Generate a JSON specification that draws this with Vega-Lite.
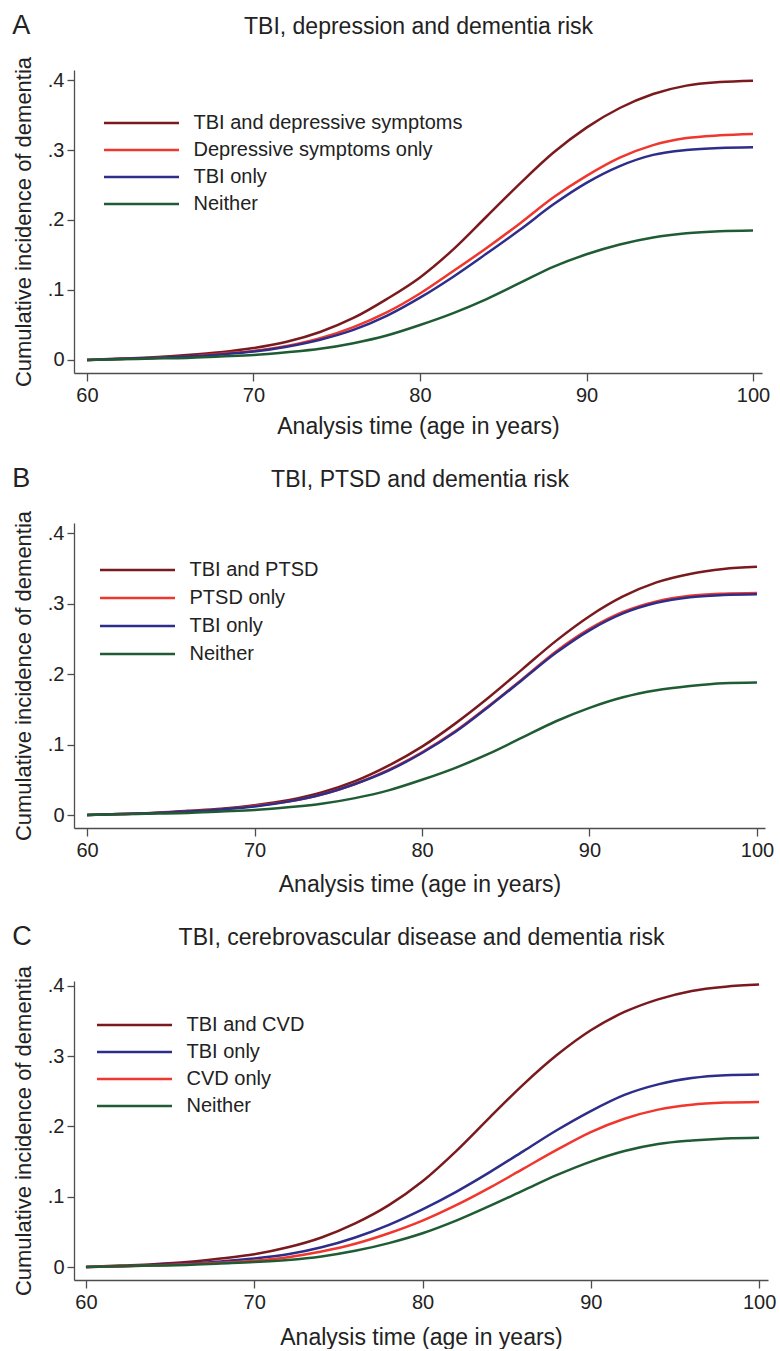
{
  "$schema": "https://vega.github.io/schema/vega-lite/v6.json",
  "background": "white",
  "padding": {"left": 12, "top": 12, "right": 5, "bottom": 0},
  "spacing": 27,
  "config": {
    "font": "Liberation Sans",
    "view": {"stroke": null},
    "axis": {"domainColor": "#4d4d4d", "tickColor": "#4d4d4d", "domainWidth": 1.3, "tickWidth": 1.3, "tickSize": 7, "labelFont": "Liberation Sans", "labelFontSize": 20, "labelColor": "#222222", "titleFont": "Liberation Sans", "titleFontSize": 22, "titleFontWeight": "normal", "titleColor": "#222222", "grid": false, "labelPadding": 4, "labelFlush": false},
    "axisX": {"tickSize": 8, "titlePadding": 10, "titleFontSize": 23},
    "axisY": {"titlePadding": 12, "labelPadding": 3},
    "legend": {"orient": "none", "title": null, "padding": 0, "labelFont": "Liberation Sans", "labelFontSize": 20, "labelColor": "#222222", "labelLimit": 600, "symbolType": "M-7.5,0H7.5", "symbolSize": 100, "symbolStrokeWidth": 2.5, "symbolOffset": 27.5, "labelOffset": 42, "rowPadding": 7},
    "title": {"font": "Liberation Sans", "color": "#222222"}
  },
  "resolve": {"scale": {"x": "independent", "y": "independent", "color": "independent"}},
  "datasets": {
    "A": [
      {"g":"TBI and depressive symptoms","a":60,"v":0},{"g":"TBI and depressive symptoms","a":62,"v":0.002},{"g":"TBI and depressive symptoms","a":64,"v":0.004},{"g":"TBI and depressive symptoms","a":66,"v":0.007},{"g":"TBI and depressive symptoms","a":68,"v":0.011},{"g":"TBI and depressive symptoms","a":70,"v":0.017},{"g":"TBI and depressive symptoms","a":72,"v":0.026},{"g":"TBI and depressive symptoms","a":74,"v":0.040},{"g":"TBI and depressive symptoms","a":76,"v":0.060},{"g":"TBI and depressive symptoms","a":78,"v":0.087},{"g":"TBI and depressive symptoms","a":80,"v":0.118},{"g":"TBI and depressive symptoms","a":82,"v":0.158},{"g":"TBI and depressive symptoms","a":84,"v":0.205},{"g":"TBI and depressive symptoms","a":86,"v":0.252},{"g":"TBI and depressive symptoms","a":88,"v":0.296},{"g":"TBI and depressive symptoms","a":90,"v":0.332},{"g":"TBI and depressive symptoms","a":92,"v":0.360},{"g":"TBI and depressive symptoms","a":94,"v":0.380},{"g":"TBI and depressive symptoms","a":96,"v":0.392},{"g":"TBI and depressive symptoms","a":98,"v":0.397},{"g":"TBI and depressive symptoms","a":100,"v":0.399},
      {"g":"Depressive symptoms only","a":60,"v":0},{"g":"Depressive symptoms only","a":62,"v":0.0015},{"g":"Depressive symptoms only","a":64,"v":0.003},{"g":"Depressive symptoms only","a":66,"v":0.005},{"g":"Depressive symptoms only","a":68,"v":0.009},{"g":"Depressive symptoms only","a":70,"v":0.013},{"g":"Depressive symptoms only","a":72,"v":0.020},{"g":"Depressive symptoms only","a":74,"v":0.031},{"g":"Depressive symptoms only","a":76,"v":0.047},{"g":"Depressive symptoms only","a":78,"v":0.068},{"g":"Depressive symptoms only","a":80,"v":0.095},{"g":"Depressive symptoms only","a":82,"v":0.127},{"g":"Depressive symptoms only","a":84,"v":0.160},{"g":"Depressive symptoms only","a":86,"v":0.195},{"g":"Depressive symptoms only","a":88,"v":0.232},{"g":"Depressive symptoms only","a":90,"v":0.263},{"g":"Depressive symptoms only","a":92,"v":0.289},{"g":"Depressive symptoms only","a":94,"v":0.307},{"g":"Depressive symptoms only","a":96,"v":0.317},{"g":"Depressive symptoms only","a":98,"v":0.321},{"g":"Depressive symptoms only","a":100,"v":0.323},
      {"g":"TBI only","a":60,"v":0},{"g":"TBI only","a":62,"v":0.0015},{"g":"TBI only","a":64,"v":0.003},{"g":"TBI only","a":66,"v":0.005},{"g":"TBI only","a":68,"v":0.008},{"g":"TBI only","a":70,"v":0.012},{"g":"TBI only","a":72,"v":0.019},{"g":"TBI only","a":74,"v":0.029},{"g":"TBI only","a":76,"v":0.043},{"g":"TBI only","a":78,"v":0.063},{"g":"TBI only","a":80,"v":0.089},{"g":"TBI only","a":82,"v":0.119},{"g":"TBI only","a":84,"v":0.152},{"g":"TBI only","a":86,"v":0.186},{"g":"TBI only","a":88,"v":0.222},{"g":"TBI only","a":90,"v":0.253},{"g":"TBI only","a":92,"v":0.277},{"g":"TBI only","a":94,"v":0.293},{"g":"TBI only","a":96,"v":0.300},{"g":"TBI only","a":98,"v":0.303},{"g":"TBI only","a":100,"v":0.304},
      {"g":"Neither","a":60,"v":0},{"g":"Neither","a":62,"v":0.001},{"g":"Neither","a":64,"v":0.002},{"g":"Neither","a":66,"v":0.003},{"g":"Neither","a":68,"v":0.005},{"g":"Neither","a":70,"v":0.007},{"g":"Neither","a":72,"v":0.011},{"g":"Neither","a":74,"v":0.016},{"g":"Neither","a":76,"v":0.024},{"g":"Neither","a":78,"v":0.035},{"g":"Neither","a":80,"v":0.050},{"g":"Neither","a":82,"v":0.067},{"g":"Neither","a":84,"v":0.087},{"g":"Neither","a":86,"v":0.110},{"g":"Neither","a":88,"v":0.133},{"g":"Neither","a":90,"v":0.151},{"g":"Neither","a":92,"v":0.165},{"g":"Neither","a":94,"v":0.175},{"g":"Neither","a":96,"v":0.181},{"g":"Neither","a":98,"v":0.184},{"g":"Neither","a":100,"v":0.185}
    ],
    "B": [
      {"g":"TBI and PTSD","a":60,"v":0},{"g":"TBI and PTSD","a":62,"v":0.0015},{"g":"TBI and PTSD","a":64,"v":0.003},{"g":"TBI and PTSD","a":66,"v":0.006},{"g":"TBI and PTSD","a":68,"v":0.009},{"g":"TBI and PTSD","a":70,"v":0.014},{"g":"TBI and PTSD","a":72,"v":0.021},{"g":"TBI and PTSD","a":74,"v":0.032},{"g":"TBI and PTSD","a":76,"v":0.048},{"g":"TBI and PTSD","a":78,"v":0.070},{"g":"TBI and PTSD","a":80,"v":0.097},{"g":"TBI and PTSD","a":82,"v":0.130},{"g":"TBI and PTSD","a":84,"v":0.167},{"g":"TBI and PTSD","a":86,"v":0.207},{"g":"TBI and PTSD","a":88,"v":0.247},{"g":"TBI and PTSD","a":90,"v":0.282},{"g":"TBI and PTSD","a":92,"v":0.310},{"g":"TBI and PTSD","a":94,"v":0.330},{"g":"TBI and PTSD","a":96,"v":0.342},{"g":"TBI and PTSD","a":98,"v":0.349},{"g":"TBI and PTSD","a":100,"v":0.352},
      {"g":"PTSD only","a":60,"v":0},{"g":"PTSD only","a":62,"v":0.0015},{"g":"PTSD only","a":64,"v":0.003},{"g":"PTSD only","a":66,"v":0.005},{"g":"PTSD only","a":68,"v":0.008},{"g":"PTSD only","a":70,"v":0.013},{"g":"PTSD only","a":72,"v":0.019},{"g":"PTSD only","a":74,"v":0.029},{"g":"PTSD only","a":76,"v":0.044},{"g":"PTSD only","a":78,"v":0.064},{"g":"PTSD only","a":80,"v":0.089},{"g":"PTSD only","a":82,"v":0.119},{"g":"PTSD only","a":84,"v":0.155},{"g":"PTSD only","a":86,"v":0.193},{"g":"PTSD only","a":88,"v":0.232},{"g":"PTSD only","a":90,"v":0.264},{"g":"PTSD only","a":92,"v":0.288},{"g":"PTSD only","a":94,"v":0.303},{"g":"PTSD only","a":96,"v":0.311},{"g":"PTSD only","a":98,"v":0.314},{"g":"PTSD only","a":100,"v":0.315},
      {"g":"TBI only","a":60,"v":0},{"g":"TBI only","a":62,"v":0.0015},{"g":"TBI only","a":64,"v":0.003},{"g":"TBI only","a":66,"v":0.005},{"g":"TBI only","a":68,"v":0.008},{"g":"TBI only","a":70,"v":0.012},{"g":"TBI only","a":72,"v":0.019},{"g":"TBI only","a":74,"v":0.029},{"g":"TBI only","a":76,"v":0.044},{"g":"TBI only","a":78,"v":0.063},{"g":"TBI only","a":80,"v":0.088},{"g":"TBI only","a":82,"v":0.118},{"g":"TBI only","a":84,"v":0.154},{"g":"TBI only","a":86,"v":0.192},{"g":"TBI only","a":88,"v":0.230},{"g":"TBI only","a":90,"v":0.262},{"g":"TBI only","a":92,"v":0.286},{"g":"TBI only","a":94,"v":0.301},{"g":"TBI only","a":96,"v":0.309},{"g":"TBI only","a":98,"v":0.312},{"g":"TBI only","a":100,"v":0.313},
      {"g":"Neither","a":60,"v":0},{"g":"Neither","a":62,"v":0.001},{"g":"Neither","a":64,"v":0.002},{"g":"Neither","a":66,"v":0.003},{"g":"Neither","a":68,"v":0.005},{"g":"Neither","a":70,"v":0.007},{"g":"Neither","a":72,"v":0.011},{"g":"Neither","a":74,"v":0.016},{"g":"Neither","a":76,"v":0.024},{"g":"Neither","a":78,"v":0.035},{"g":"Neither","a":80,"v":0.050},{"g":"Neither","a":82,"v":0.067},{"g":"Neither","a":84,"v":0.087},{"g":"Neither","a":86,"v":0.110},{"g":"Neither","a":88,"v":0.133},{"g":"Neither","a":90,"v":0.152},{"g":"Neither","a":92,"v":0.167},{"g":"Neither","a":94,"v":0.177},{"g":"Neither","a":96,"v":0.183},{"g":"Neither","a":98,"v":0.187},{"g":"Neither","a":100,"v":0.188}
    ],
    "C": [
      {"g":"TBI and CVD","a":60,"v":0},{"g":"TBI and CVD","a":62,"v":0.002},{"g":"TBI and CVD","a":64,"v":0.004},{"g":"TBI and CVD","a":66,"v":0.007},{"g":"TBI and CVD","a":68,"v":0.012},{"g":"TBI and CVD","a":70,"v":0.018},{"g":"TBI and CVD","a":72,"v":0.028},{"g":"TBI and CVD","a":74,"v":0.042},{"g":"TBI and CVD","a":76,"v":0.062},{"g":"TBI and CVD","a":78,"v":0.088},{"g":"TBI and CVD","a":80,"v":0.122},{"g":"TBI and CVD","a":82,"v":0.165},{"g":"TBI and CVD","a":84,"v":0.213},{"g":"TBI and CVD","a":86,"v":0.260},{"g":"TBI and CVD","a":88,"v":0.302},{"g":"TBI and CVD","a":90,"v":0.337},{"g":"TBI and CVD","a":92,"v":0.363},{"g":"TBI and CVD","a":94,"v":0.381},{"g":"TBI and CVD","a":96,"v":0.393},{"g":"TBI and CVD","a":98,"v":0.399},{"g":"TBI and CVD","a":100,"v":0.402},
      {"g":"TBI only","a":60,"v":0},{"g":"TBI only","a":62,"v":0.001},{"g":"TBI only","a":64,"v":0.003},{"g":"TBI only","a":66,"v":0.005},{"g":"TBI only","a":68,"v":0.008},{"g":"TBI only","a":70,"v":0.012},{"g":"TBI only","a":72,"v":0.018},{"g":"TBI only","a":74,"v":0.028},{"g":"TBI only","a":76,"v":0.042},{"g":"TBI only","a":78,"v":0.060},{"g":"TBI only","a":80,"v":0.082},{"g":"TBI only","a":82,"v":0.107},{"g":"TBI only","a":84,"v":0.135},{"g":"TBI only","a":86,"v":0.165},{"g":"TBI only","a":88,"v":0.195},{"g":"TBI only","a":90,"v":0.222},{"g":"TBI only","a":92,"v":0.245},{"g":"TBI only","a":94,"v":0.260},{"g":"TBI only","a":96,"v":0.269},{"g":"TBI only","a":98,"v":0.273},{"g":"TBI only","a":100,"v":0.274},
      {"g":"CVD only","a":60,"v":0},{"g":"CVD only","a":62,"v":0.001},{"g":"CVD only","a":64,"v":0.002},{"g":"CVD only","a":66,"v":0.004},{"g":"CVD only","a":68,"v":0.006},{"g":"CVD only","a":70,"v":0.009},{"g":"CVD only","a":72,"v":0.014},{"g":"CVD only","a":74,"v":0.022},{"g":"CVD only","a":76,"v":0.033},{"g":"CVD only","a":78,"v":0.048},{"g":"CVD only","a":80,"v":0.066},{"g":"CVD only","a":82,"v":0.088},{"g":"CVD only","a":84,"v":0.113},{"g":"CVD only","a":86,"v":0.140},{"g":"CVD only","a":88,"v":0.167},{"g":"CVD only","a":90,"v":0.192},{"g":"CVD only","a":92,"v":0.211},{"g":"CVD only","a":94,"v":0.224},{"g":"CVD only","a":96,"v":0.231},{"g":"CVD only","a":98,"v":0.234},{"g":"CVD only","a":100,"v":0.235},
      {"g":"Neither","a":60,"v":0},{"g":"Neither","a":62,"v":0.001},{"g":"Neither","a":64,"v":0.002},{"g":"Neither","a":66,"v":0.003},{"g":"Neither","a":68,"v":0.005},{"g":"Neither","a":70,"v":0.007},{"g":"Neither","a":72,"v":0.010},{"g":"Neither","a":74,"v":0.015},{"g":"Neither","a":76,"v":0.023},{"g":"Neither","a":78,"v":0.034},{"g":"Neither","a":80,"v":0.048},{"g":"Neither","a":82,"v":0.066},{"g":"Neither","a":84,"v":0.087},{"g":"Neither","a":86,"v":0.109},{"g":"Neither","a":88,"v":0.131},{"g":"Neither","a":90,"v":0.150},{"g":"Neither","a":92,"v":0.165},{"g":"Neither","a":94,"v":0.175},{"g":"Neither","a":96,"v":0.180},{"g":"Neither","a":98,"v":0.183},{"g":"Neither","a":100,"v":0.184}
    ]
  },
  "vconcat": [
    {
      "title": {"text": "A", "anchor": "start", "frame": "bounds", "fontSize": 27, "fontWeight": "normal", "offset": 0, "dy": 25},
      "width": 688, "height": 303,
      "data": {"name": "A"},
      "resolve": {"axis": {"x": "independent"}},
      "layer": [
        {
          "mark": {"type": "line", "strokeWidth": 2.5, "interpolate": "monotone"},
          "encoding": {
            "x": {"field": "a", "type": "quantitative", "scale": {"domain": [59.22, 100.54], "nice": false, "zero": false}, "axis": {"title": "Analysis time (age in years)", "values": [60, 70, 80, 90, 100]}},
            "y": {"field": "v", "type": "quantitative", "scale": {"domain": [-0.0186, 0.4143], "nice": false, "zero": false}, "axis": {"title": "Cumulative incidence of dementia", "values": [0, 0.1, 0.2, 0.3, 0.4], "labelExpr": "datum.value == 0 ? '0' : '.' + round(datum.value * 10)"}},
            "color": {"field": "g", "type": "nominal", "scale": {"domain": ["TBI and depressive symptoms", "Depressive symptoms only", "TBI only", "Neither"], "range": ["#7a1a1e", "#f0372d", "#2d2d8a", "#1f5c34"]}, "legend": {"legendX": 30, "legendY": 43}}
          }
        },
        {
          "data": {"values": [{"t": 1}]},
          "mark": {"type": "rule", "opacity": 0},
          "encoding": {"x": {"datum": 80, "type": "quantitative", "axis": {"orient": "top", "title": "TBI, depression and dementia risk", "domain": false, "ticks": false, "labels": false, "titlePadding": 32, "titleFontSize": 23}}}
        }
      ]
    },
    {
      "title": {"text": "B", "anchor": "start", "frame": "bounds", "fontSize": 27, "fontWeight": "normal", "offset": 0, "dy": 25},
      "width": 691, "height": 305,
      "data": {"name": "B"},
      "resolve": {"axis": {"x": "independent"}},
      "layer": [
        {
          "mark": {"type": "line", "strokeWidth": 2.5, "interpolate": "monotone"},
          "encoding": {
            "x": {"field": "a", "type": "quantitative", "scale": {"domain": [59.22, 100.48], "nice": false, "zero": false}, "axis": {"title": "Analysis time (age in years)", "values": [60, 70, 80, 90, 100], "titlePadding": 13}},
            "y": {"field": "v", "type": "quantitative", "scale": {"domain": [-0.0184, 0.4142], "nice": false, "zero": false}, "axis": {"title": "Cumulative incidence of dementia", "values": [0, 0.1, 0.2, 0.3, 0.4], "labelExpr": "datum.value == 0 ? '0' : '.' + round(datum.value * 10)"}},
            "color": {"field": "g", "type": "nominal", "scale": {"domain": ["TBI and PTSD", "PTSD only", "TBI only", "Neither"], "range": ["#7a1a1e", "#f0372d", "#2d2d8a", "#1f5c34"]}, "legend": {"legendX": 26, "legendY": 37, "rowPadding": 8}}
          }
        },
        {
          "data": {"values": [{"t": 1}]},
          "mark": {"type": "rule", "opacity": 0},
          "encoding": {"x": {"datum": 80, "type": "quantitative", "axis": {"orient": "top", "title": "TBI, PTSD and dementia risk", "domain": false, "ticks": false, "labels": false, "titlePadding": 32, "titleFontSize": 23}}}
        }
      ]
    },
    {
      "title": {"text": "C", "anchor": "start", "frame": "bounds", "fontSize": 27, "fontWeight": "normal", "offset": 0, "dy": 25},
      "width": 694, "height": 299,
      "data": {"name": "C"},
      "resolve": {"axis": {"x": "independent"}},
      "layer": [
        {
          "mark": {"type": "line", "strokeWidth": 2.5, "interpolate": "monotone"},
          "encoding": {
            "x": {"field": "a", "type": "quantitative", "scale": {"domain": [59.29, 100.53], "nice": false, "zero": false}, "axis": {"title": "Analysis time (age in years)", "values": [60, 70, 80, 90, 100], "titlePadding": 14}},
            "y": {"field": "v", "type": "quantitative", "scale": {"domain": [-0.0185, 0.4071], "nice": false, "zero": false}, "axis": {"title": "Cumulative incidence of dementia", "values": [0, 0.1, 0.2, 0.3, 0.4], "labelExpr": "datum.value == 0 ? '0' : '.' + round(datum.value * 10)"}},
            "color": {"field": "g", "type": "nominal", "scale": {"domain": ["TBI and CVD", "TBI only", "CVD only", "Neither"], "range": ["#7a1a1e", "#2d2d8a", "#f0372d", "#1f5c34"]}, "legend": {"legendX": 23, "legendY": 34}}
          }
        },
        {
          "data": {"values": [{"t": 1}]},
          "mark": {"type": "rule", "opacity": 0},
          "encoding": {"x": {"datum": 80, "type": "quantitative", "axis": {"orient": "top", "title": "TBI, cerebrovascular disease and dementia risk", "domain": false, "ticks": false, "labels": false, "titlePadding": 32, "titleFontSize": 23}}}
        }
      ]
    }
  ]
}
